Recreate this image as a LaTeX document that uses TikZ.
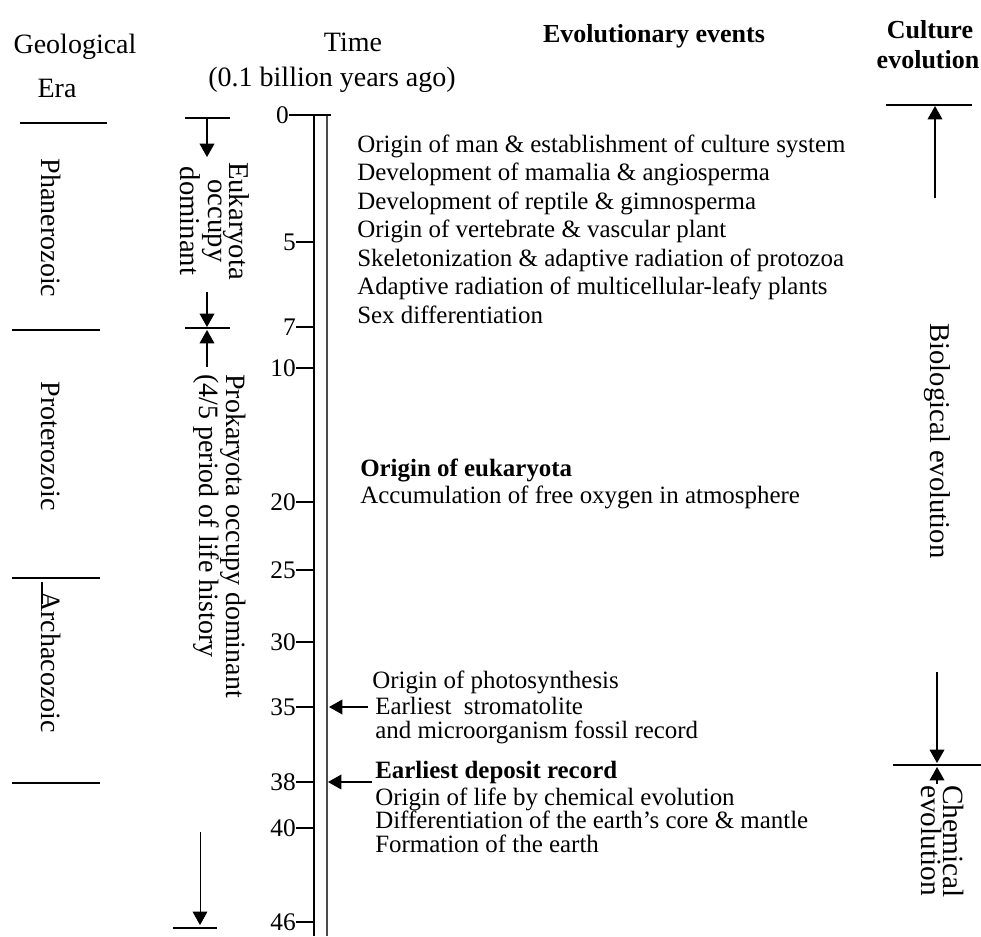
\documentclass[tikz,border=0pt]{standalone}
\usepackage{fontspec}
\setmainfont{Liberation Serif}
\usetikzlibrary{arrows.meta}
\begin{document}
\begin{tikzpicture}[x=0.75pt,y=-0.75pt,
  hdr/.style={font=\fontsize{21}{24}\selectfont, inner sep=0pt},
  hdrb/.style={font=\fontsize{19.5}{22}\bfseries\selectfont, inner sep=0pt},
  evt/.style={font=\fontsize{18.7}{22}\selectfont, anchor=base west, inner sep=0pt},
  evtb/.style={evt, font=\fontsize{18.7}{22}\bfseries\selectfont},
  tlab/.style={font=\fontsize{19}{22}\selectfont, anchor=east, inner sep=0pt},
  vert/.style={rotate=-90, font=\fontsize{21}{16}\selectfont, inner sep=0pt},
  arr/.style={-{Triangle[length=10pt,width=11pt]}, line width=1.1pt},
  rul/.style={line width=1.1pt}]
\useasboundingbox (0,0) rectangle (981,936);

% headers
\node[hdr] (hgeo) at (75,47) {Geological};
\node[hdr] (hera) at (57,88) {Era};
\node[hdr] (htime) at (353,42) {Time};
\node[hdr] (hunit) at (332,80) {(0.1 billion years ago)};
\node[hdrb] (hevt) at (654,36) {Evolutionary events};
\node[hdrb] (hcul1) at (930,30) {Culture};
\node[hdrb] (hcul2) at (928,60) {evolution};

% geological era column
\draw[rul] (20,123) -- (107,123);
\draw[rul] (12,330) -- (100,330);
\draw[rul] (12,578) -- (100,578);
\draw[rul] (12,783) -- (100,783);
\draw[line width=0.9pt] (42,582) -- (42,604);
\node[vert] (phan) at (51,228) {Phanerozoic};
\node[vert] (prot) at (51,446) {Proterozoic};
\node[vert] (arch) at (51,662) {Archacozoic};

% dominance column
\coordinate (d0) at (207,118);
\coordinate (d0a) at (207,157);
\draw[rul] (185,118) -- (230,118);
\draw[arr] (d0) -- (d0a);
\node[vert, align=center, font=\fontsize{21.5}{16}\selectfont] (euk) at (215,221) {Eukaryota\\occupy\\dominant};
\coordinate (d1) at (207,292);
\coordinate (d1a) at (207,327);
\coordinate (d2) at (207,367);
\coordinate (d2a) at (207,330);
\draw[arr] (d1) -- (d1a);
\draw[rul] (185,328) -- (230,328);
\draw[arr] (d2) -- (d2a);
\node[vert, align=left, anchor=north west, font=\fontsize{21}{18}\selectfont] (prok) at (246,374)
  {Prokaryota occupy dominant\\(4/5 period of life history};
\coordinate (d3) at (200,832);
\coordinate (d3a) at (200,925);
\draw[-{Triangle[length=10pt,width=11pt]}, line width=0.7pt] (d3) -- (d3a);
\draw[rul] (173,928) -- (217,928);

% time axis
\draw[line width=1pt] (314,115) -- (314,936);
\draw[line width=1.8pt, black!70] (327,115) -- (327,936);
\node[tlab] (t0) at (289,115) {0};
\draw[line width=1pt] (t0.east) -- (331,115);
\foreach \v/\y in {5/242,7/327,10/368,20/502,25/570,30/642,35/707,38/782,40/828,46/922}{
  \node[tlab] (t\v) at (296,\y) {\v};
  \coordinate (a\v) at (314,\y);
  \draw[line width=1pt] (t\v.east) -- (a\v);
}

% events
\node[evt] (e1) at (357,152) {Origin of man \& establishment of culture system};
\node[evt] (e2) at (357,180.5) {Development of mamalia \& angiosperma};
\node[evt] (e3) at (357,209) {Development of reptile \& gimnosperma};
\node[evt] (e4) at (357,237.5) {Origin of vertebrate \& vascular plant};
\node[evt] (e5) at (357,266) {Skeletonization \& adaptive radiation of protozoa};
\node[evt] (e6) at (357,294.5) {Adaptive radiation of multicellular-leafy plants};
\node[evt] (e7) at (357,323) {Sex differentiation};
\node[evtb] (e8) at (360,476) {Origin of eukaryota};
\node[evt] (e9) at (360,503) {Accumulation of free oxygen in atmosphere};
\node[evt] (e10) at (372,688) {Origin of photosynthesis};
\node[evt, anchor=north west, align=left, font=\fontsize{18.7}{18}\selectfont] (e11) at (375,697)
  {Earliest\ \ stromatolite\\and microorganism fossil record};
\node[evtb] (e13) at (375,778) {Earliest deposit record};
\node[evt] (e14) at (375,805) {Origin of life by chemical evolution};
\node[evt] (e15) at (375,828) {Differentiation of the earth's core \& mantle};
\node[evt] (e16) at (375,852) {Formation of the earth};
\coordinate (p35) at (368,707);
\coordinate (q35) at (329,707);
\coordinate (p38) at (372,782);
\coordinate (q38) at (328,782);
\draw[arr] (p35) -- (q35);
\draw[arr] (p38) -- (q38);

% right column
\draw[rul] (886,105) -- (972,105);
\coordinate (r0) at (935,198);
\coordinate (r0a) at (935,106);
\draw[arr] (r0) -- (r0a);
\node[vert, font=\fontsize{21.5}{16}\selectfont] (bio) at (937,441) {Biological evolution};
\coordinate (r1) at (937,672);
\coordinate (r1a) at (937,763);
\draw[arr] (r1) -- (r1a);
\draw[rul] (893,765) -- (981,765);
\coordinate (r2) at (937,784);
\coordinate (r2a) at (937,767);
\draw[arr] (r2) -- (r2a);
\node[vert, align=left, anchor=north west, font=\fontsize{22}{16.5}\selectfont] (chem) at (964,785)
  {Chemical\\evolution};
\end{tikzpicture}
\end{document}
